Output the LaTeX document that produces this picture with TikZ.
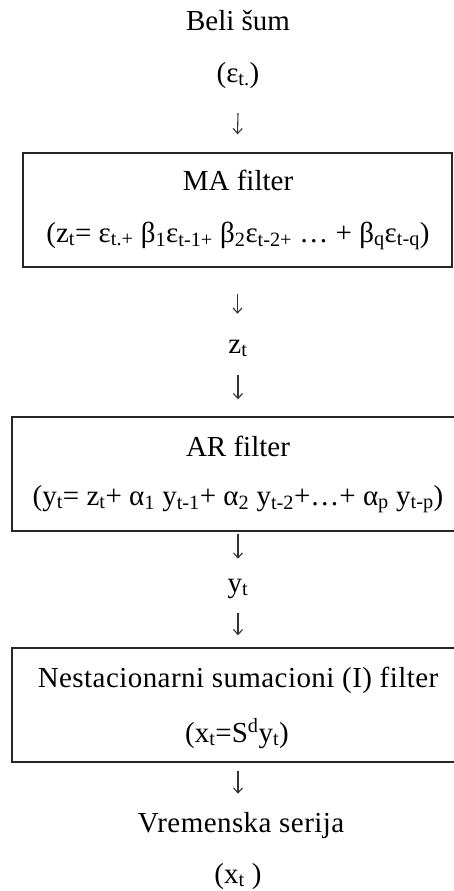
\documentclass[tikz,border=0pt]{standalone}
\usepackage{fontspec}
\setmainfont{Liberation Serif}
\usetikzlibrary{arrows.meta}
\newcommand{\sbx}[1]{\textsubscript{#1}}
\newcommand{\spx}[1]{\textsuperscript{#1}}
\tikzset{
  txt/.style={inner sep=0pt, anchor=base, font=\fontsize{29}{34}\selectfont},
  widetxt/.style={txt, font=\fontsize{29}{34}\selectfont\addfontfeature{LetterSpace=1.5}},
  boxstyle/.style={draw=black!85, line width=1.4pt, inner sep=0pt},
  arr/.style={draw=black!80, line width=1.1pt, -{Straight Barb[length=5pt,width=9pt,line width=1.1pt]}},
}
\begin{document}
\begin{tikzpicture}[x=1pt,y=-1pt]
\useasboundingbox (0,0) rectangle (454,891);
\fill[white] (0,0) rectangle (454,891);
% top
\node[txt] (beli) at (238,31) {Beli šum};
\node[txt] (eps) at (238,82) {(ε\sbx{t.})};
% box 1
\node[boxstyle, minimum width=429pt, minimum height=114pt] (box1) at (237.5,210) {};
\node[txt] (ma) at (238,190) {MA filter};
\node[txt] (maf) at (238,242) {(z\sbx{t}= ε\sbx{t.+} β\sbx{1}ε\sbx{t-1+} β\sbx{2}ε\sbx{t-2+} … + β\sbx{q}ε\sbx{t-q})};
% z_t
\node[txt] (zt) at (238,353) {z\sbx{t}};
% box 2
\node[boxstyle, minimum width=452pt, minimum height=114pt] (box2) at (238,474) {};
\node[txt] (ar) at (238,456) {AR filter};
\node[txt] (arf) at (238,505) {(y\sbx{t}= z\sbx{t}+ α\sbx{1} y\sbx{t-1}+ α\sbx{2} y\sbx{t-2}+…+ α\sbx{p} y\sbx{t-p})};
% y_t
\node[txt] (yt) at (238,592) {y\sbx{t}};
% box 3
\node[boxstyle, minimum width=452pt, minimum height=114pt] (box3) at (238,705) {};
\node[widetxt] (nes) at (238,687) {Nestacionarni sumacioni (I) filter};
\node[txt] (nesf) at (237,742) {(x\sbx{t}=S\spx{d}y\sbx{t})};
% bottom
\node[widetxt] (vrem) at (241,832) {Vremenska serija};
\node[txt] (xt) at (238,883) {(x\sbx{t} )};
% arrows
\draw[arr] ([yshift=-31pt]eps.base) -- ([yshift=18pt]box1.north);
\draw[arr] ([yshift=-26pt]box1.south) -- ([yshift=-46pt]box1.south);
\draw[arr] ([yshift=-22pt]zt.base) -- ([yshift=17pt]box2.north);
\draw[arr] ([yshift=-2pt]box2.south) -- ([yshift=-27pt]box2.south);
\draw[arr] ([yshift=-21pt]yt.base) -- ([yshift=12pt]box3.north);
\draw[arr] ([yshift=-8pt]box3.south) -- ([yshift=-31pt]box3.south);
\end{tikzpicture}
\end{document}
